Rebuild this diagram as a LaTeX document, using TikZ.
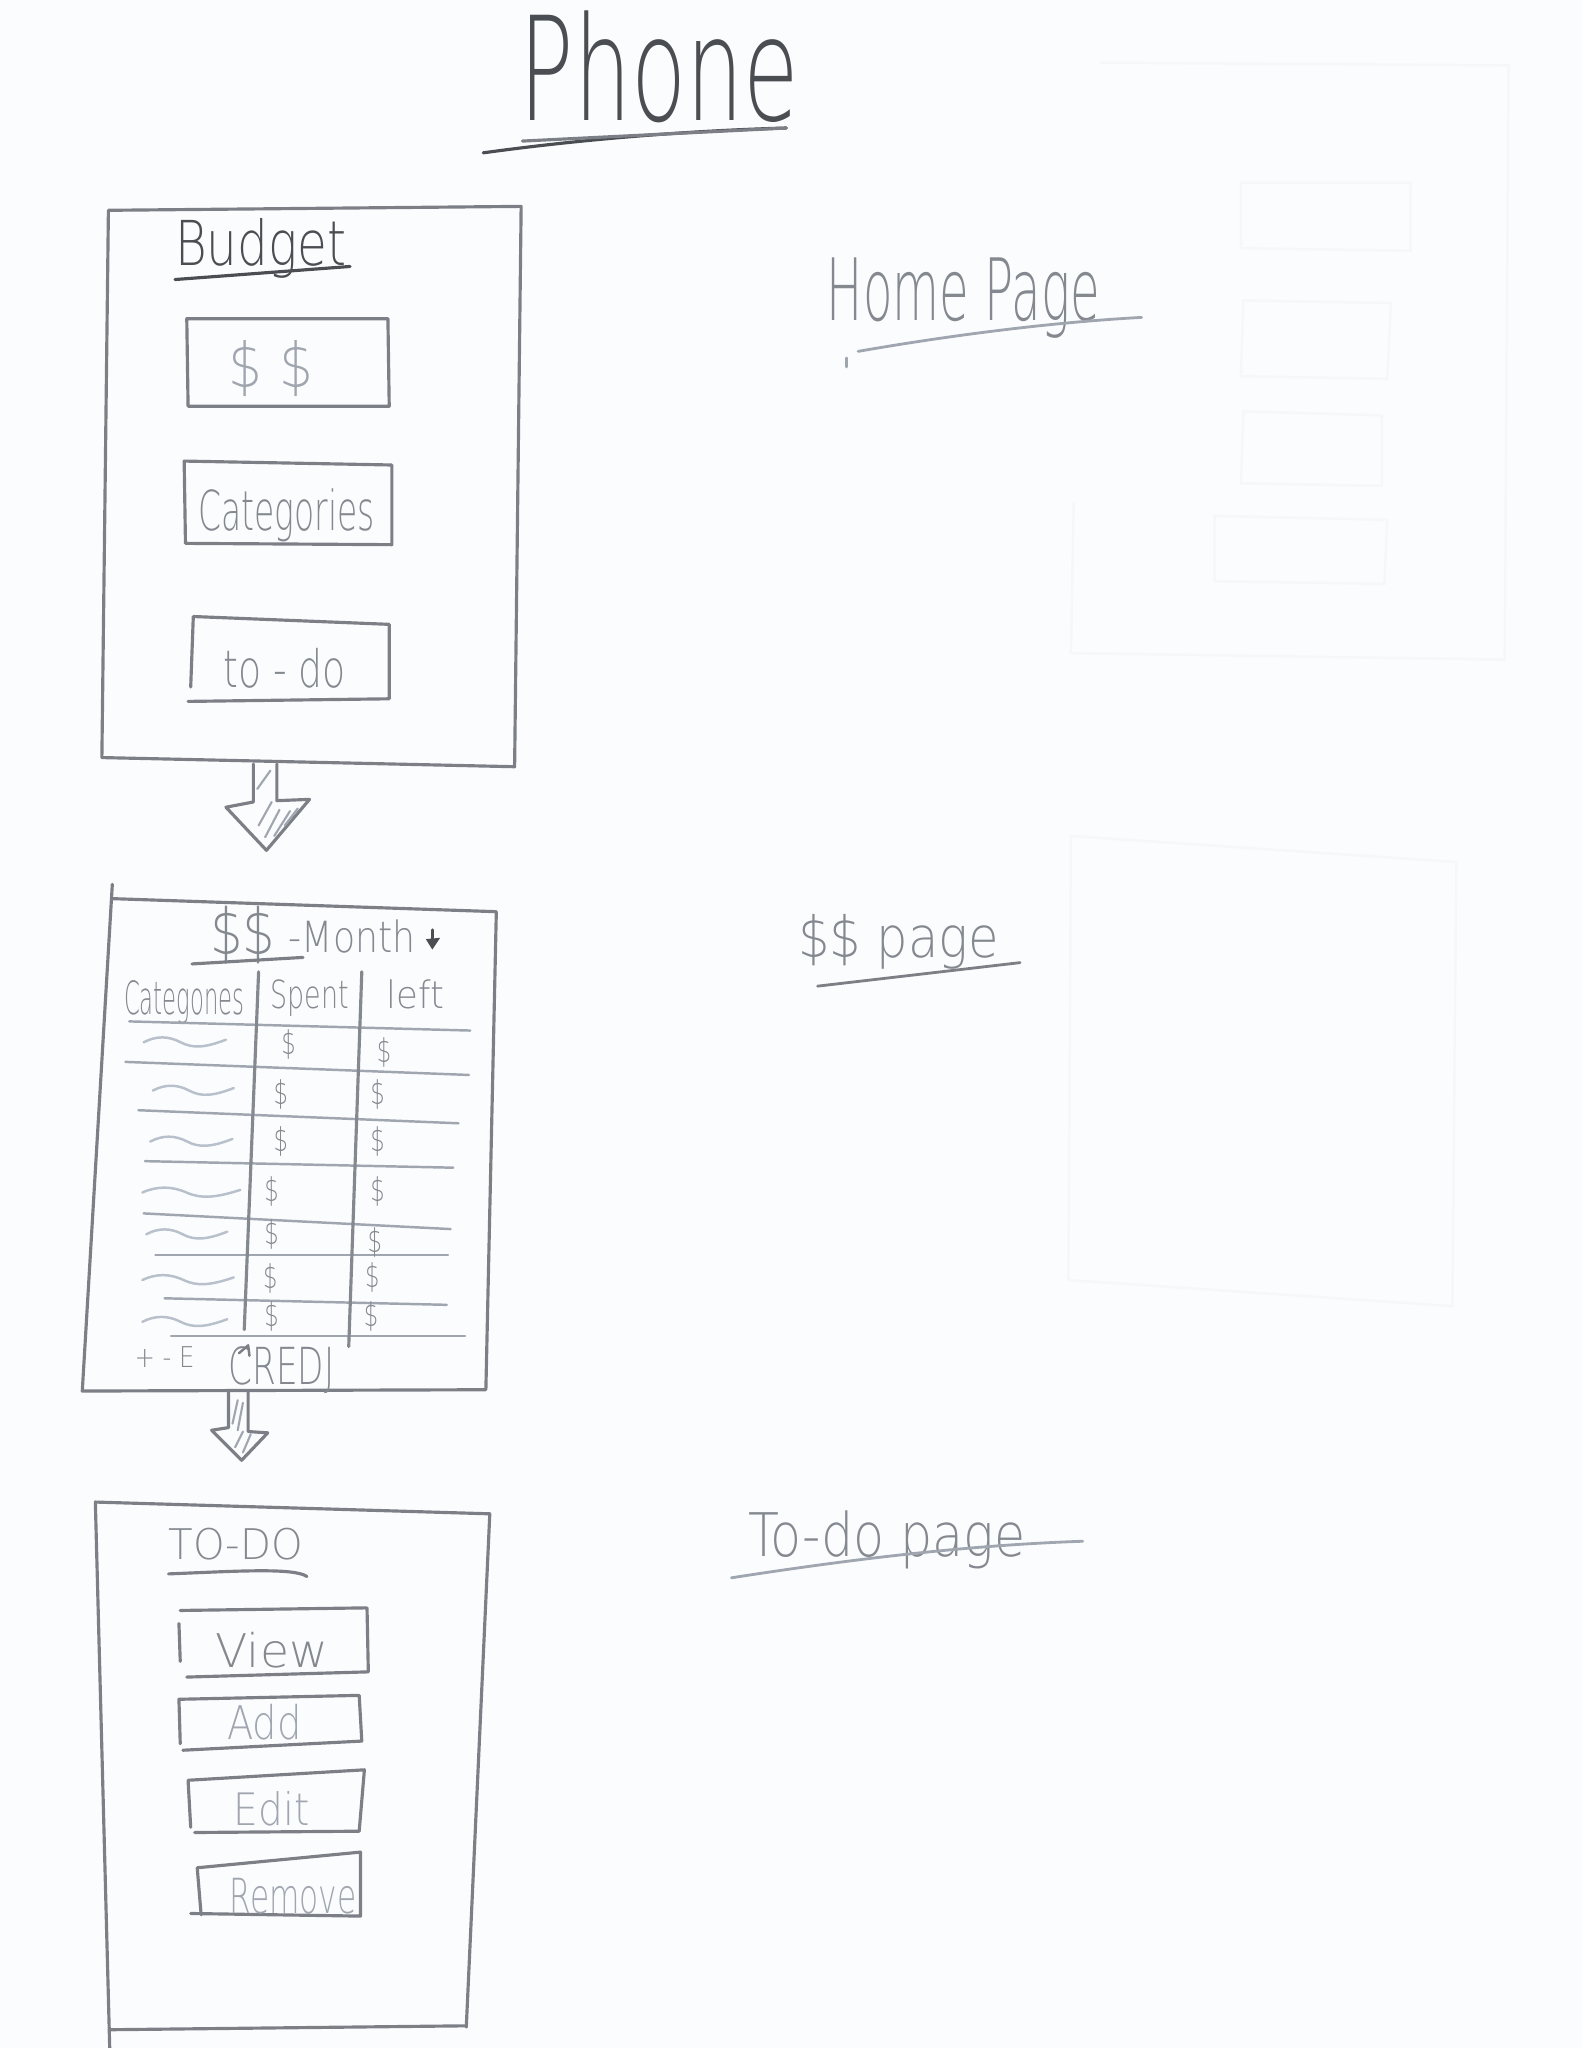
\documentclass[tikz,border=0pt]{standalone}
\usepackage{fontspec}
\usepackage{graphicx}
\usetikzlibrary{calc}
\IfFontExistsTF{DejaVu Sans ExtraLight}
  {\newfontfamily\hand{DejaVu Sans ExtraLight}}
  {\newfontfamily\hand{DejaVu Sans}}
% one drawing unit
\newlength\upx
\setlength\upx{0.013064cm}
% handwritten word squeezed to a given width and ascender height
\newcommand{\hw}[3]{\resizebox{#1\upx}{#2\upx}{\hand #3}}

\definecolor{paper}{RGB}{251,252,254}
\definecolor{lead}{RGB}{124,128,134}
\definecolor{leaddark}{RGB}{74,77,82}
\definecolor{leadmid}{RGB}{132,137,144}
\definecolor{leadlight}{RGB}{160,166,175}
\definecolor{leadpale}{RGB}{184,192,203}
\definecolor{ghost}{RGB}{245,247,249}

\tikzset{
  frame/.style={draw=lead, line width=0.9pt, line cap=round, line join=round},
  ruling/.style={draw=leadlight, line width=0.7pt, line cap=round},
  squiggle/.style={draw=leadpale, line width=0.7pt, line cap=round},
  hatch/.style={draw=leadlight, line width=0.6pt, line cap=round},
  backside/.style={draw=ghost, line width=0.7pt, line cap=round},
  ink/.style={inner sep=0pt, outer sep=0pt, anchor=base west, text=lead},
  darkink/.style={ink, text=leaddark},
  softink/.style={ink, text=leadmid},
  paleink/.style={ink, text=leadlight},
  cash/.style={inner sep=0pt, anchor=center, text=leadmid}
}

\begin{document}
\begin{tikzpicture}[x=0.013064cm, y=-0.013064cm]
\fill[paper] (0,0) rectangle (1211,1568);
\useasboundingbox (0,0) rectangle (1211,1568);

% faint marks showing through from the back of the sheet
\draw[backside] (843,48) -- (1155,50) -- (1152,505) -- (820,500) -- (822,385);
\draw[backside] (950,140) -- (1080,140) -- (1080,192) -- (950,190) -- cycle;
\draw[backside] (952,230) -- (1065,232) -- (1062,290) -- (950,288) -- cycle;
\draw[backside] (952,315) -- (1058,318) -- (1058,372) -- (950,370) -- cycle;
\draw[backside] (930,395) -- (1062,398) -- (1060,447) -- (930,445) -- cycle;
\draw[backside] (820,640) -- (1115,660) -- (1112,1000) -- (818,980) -- cycle;

% ---------- title ----------
\node[darkink] (title) at (398,92) {\hw{214}{84}{Phone}};
\draw[frame, draw=leaddark] (370,117) .. controls (450,106) and (530,100) .. (602,98);
\draw[frame] (400,108) -- (602,98);

% ---------- home screen ----------
\draw[frame] (83,161) -- (399,158) -- (394,587) -- (78,580) -- cycle;
\coordinate (home-s) at (203,585);
\node[darkink] (budget) at (134,203) {\hw{131}{36}{Budget}};
\draw[frame, draw=leaddark] (134,214) -- (268,204);

\draw[frame] (143,244) -- (297,244) -- (298,311) -- (144,311) -- cycle;
\node[paleink] (cashbtn) at (175,297) {\hw{65}{36}{\$ \$}};

\draw[frame] (141,353) -- (300,356) -- (300,417) -- (142,416) -- cycle;
\node[softink] (catbtn) at (152,406) {\hw{135}{32}{Categories}};

\draw[frame] (146,526) -- (148,472) -- (298,478) -- (298,535) -- (144,537);
\node[softink] (todobtn) at (171,526) {\hw{94}{30}{to - do}};

% block arrow down to the money screen
\draw[frame] ($(home-s)+(-9,0)$) -- (194,614) -- (173,618) -- (204,651) -- (237,612) -- (212,613) -- ($(home-s)+(9,0)$);
\draw[hatch] (197,604) -- (207,590);
\draw[hatch] (198,632) -- (208,614);
\draw[hatch] (203,641) -- (214,620);
\draw[hatch] (210,640) -- (222,621);
\draw[hatch] (218,632) -- (228,619);

% ---------- money screen ----------
\draw[frame] (86,677) -- (63,1065) -- (372,1064) -- (380,698) -- (86,688);
\coordinate (money-s) at (182,1064);

\node[softink] (cashhead) at (161,731) {\hw{50}{37}{\$\$}};
\node[softink] (month) at (221,729) {\hw{97}{25}{-Month}};
\draw[frame] (147,738) -- (232,733);
\draw[frame, draw=leaddark] (331,712) -- (331,722);
\fill[leaddark] (326,719) -- (337,718) -- (331,727) -- cycle;

\node[softink] (colcat) at (95,777) {\hw{92}{26}{Categones}};
\node[softink] (colspent) at (207,772) {\hw{60}{22}{Spent}};
\node[softink] (colleft) at (296,772) {\hw{44}{22}{left}};

% table rulings
\draw[ruling] (99,782) -- (360,789);
\draw[ruling] (96,813) -- (359,823);
\draw[ruling] (106,850) -- (351,860);
\draw[ruling] (111,889) -- (347,894);
\draw[ruling] (110,929) -- (345,941);
\draw[ruling] (119,961) -- (343,961);
\draw[ruling] (126,994) -- (342,999);
\draw[ruling] (131,1023) -- (356,1023);
\draw[frame, draw=leadmid] (198,744) -- (187,1018);
\draw[frame, draw=leadmid] (277,744) -- (267,1031);

% category placeholders
\foreach \xa/\xb/\yy in {110/173/798, 117/179/835, 115/178/874, 109/184/913, 112/174/945, 109/179/980, 109/174/1012}{
  \draw[squiggle] (\xa,\yy) .. controls ({\xa+0.15*(\xb-\xa)},{\yy-5}) and ({\xa+0.3*(\xb-\xa)},{\yy-5}) .. ({\xa+0.45*(\xb-\xa)},\yy)
                  .. controls ({\xa+0.6*(\xb-\xa)},{\yy+5}) and ({\xa+0.75*(\xb-\xa)},{\yy+4}) .. (\xb,{\yy-2});
}
% amounts
\foreach \xx/\yy in {221/800, 215/838, 215/874, 208/912, 208/945, 207/979, 208/1008,
                     294/806, 289/838, 289/874, 289/912, 287/951, 285/978, 284/1008}{
  \node[cash] at (\xx,\yy) {\resizebox{11\upx}{19\upx}{\hand\$}};
}

\node[softink] (signs) at (103,1047) {\hw{46}{16}{+ - E}};
\node[softink] (red) at (175,1060) {\hw{81}{29}{CREDJ}};
\draw[frame, line width=0.7pt] (183,1036) -- (190,1030) -- (191,1038);

% block arrow down to the to-do screen
\draw[frame] ($(money-s)+(-7,1)$) -- (175,1093) -- (162,1095) -- (185,1118) -- (205,1097) -- (190,1096) -- ($(money-s)+(8,1)$);
\draw[hatch] (178,1090) -- (182,1072);
\draw[hatch] (182,1095) -- (186,1074);
\draw[hatch] (180,1108) -- (186,1096);
\draw[hatch] (186,1112) -- (192,1098);

% ---------- to-do screen ----------
\draw[frame] (84,1568) -- (73,1150) -- (375,1159) -- (357,1552);
\draw[frame] (84,1554) -- (357,1551);

\node[softink] (todohead) at (129,1194) {\hw{103}{24}{TO-DO}};
\draw[frame] (129,1205) .. controls (180,1203) and (225,1200) .. (235,1207);

\draw[frame] (137,1243) -- (138,1272);
\draw[frame] (138,1233) -- (281,1231) -- (282,1280) -- (143,1284);
\node[softink] (view) at (165,1277) {\hw{86}{27}{View}};

\draw[frame] (138,1335) -- (137,1301) -- (275,1298) -- (277,1333) -- (140,1340);
\node[paleink] (add) at (174,1332) {\hw{57}{27}{Add}};

\draw[frame] (146,1399) -- (144,1363) -- (279,1355) -- (275,1402) -- (149,1403);
\node[paleink] (edit) at (179,1398) {\hw{58}{26}{Edit}};

\draw[frame] (154,1466) -- (151,1430) -- (276,1418) -- (276,1467) -- (146,1465);
\node[paleink] (remove) at (176,1465) {\hw{97}{27}{Remove}};

% ---------- page names ----------
\node[ink, text=leadmid] (homelbl) at (633,245) {\hw{209}{48}{Home Page}};
\draw[ruling, line width=0.8pt] (657,269) .. controls (720,258) and (800,247) .. (874,243);
\draw[ruling] (648,274) -- (648,281);

\node[softink] (cashlbl) at (611,733) {\hw{154}{33}{\$\$ page}};
\draw[frame, line width=0.8pt] (626,755) -- (781,737);

\node[ink, text=leadmid] (todolbl) at (573,1192) {\hw{212}{35}{To-do page}};
\draw[ruling, line width=0.8pt] (560,1208) .. controls (650,1194) and (740,1183) .. (829,1180);
\end{tikzpicture}
\end{document}
